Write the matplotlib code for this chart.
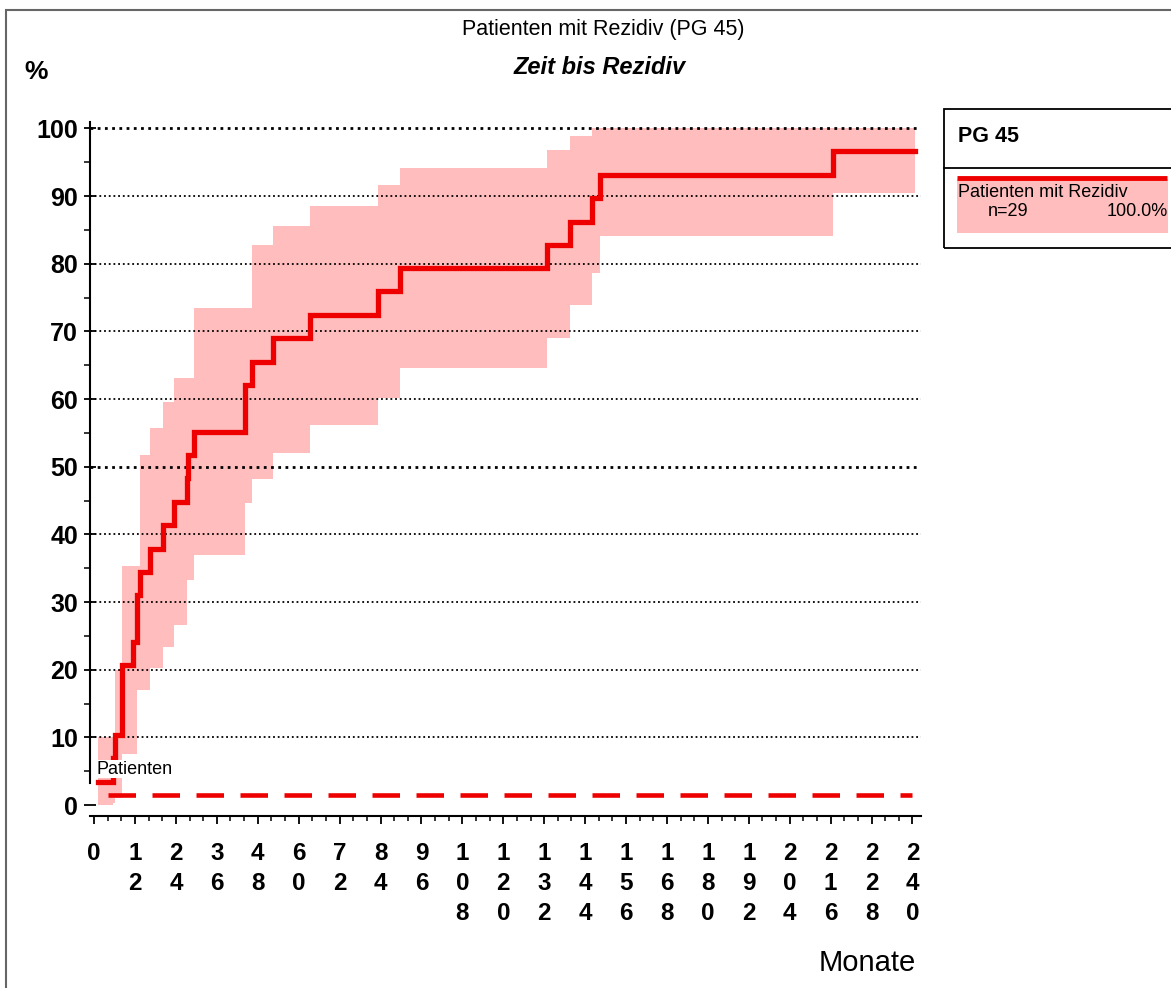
import matplotlib
matplotlib.use("Agg")
import matplotlib.pyplot as plt
from matplotlib.patches import Rectangle
from matplotlib.lines import Line2D
import numpy as np

# Kaplan-Meier-Kurve, Werte
event_months = [1.2, 5.6, 6.1, 8.3, 11.5, 12.5, 13.5, 16.4, 20.3, 23.3, 27.2, 27.6,
                29.2, 44.3, 46.2, 52.6, 63.3, 83.4, 89.7, 132.7, 139.6, 145.9, 148.4, 216.7]
rezidiv_pct = [3.4, 6.9, 10.3, 20.7, 24.1, 31.0, 34.5, 37.9, 41.4, 44.8, 48.3, 51.7,
               55.2, 62.1, 65.5, 69.0, 72.4, 75.9, 79.3, 82.8, 86.2, 89.7, 93.1, 96.6]
ci_lower = [0.0, 0.3, 1.0, 7.5, 7.5, 17.0, 17.0, 20.2, 23.4, 26.6, 33.3, 33.3,
            37.0, 44.6, 48.2, 52.0, 56.2, 60.2, 64.6, 69.1, 73.9, 78.7, 84.1, 90.4]
ci_upper = [10.0, 10.0, 20.0, 35.3, 35.3, 35.3, 51.8, 55.7, 59.6, 63.1, 63.1, 63.1,
            73.4, 73.4, 82.7, 85.6, 88.6, 91.6, 94.1, 96.8, 98.8, 100.0, 100.0, 100.0]
follow_up_end = 240.8
risk_line = [4.1, 240.0]     # gestrichelte Linie "Patienten"
risk_level = 1.5

x_ticks = list(range(0, 241, 12))
y_ticks = list(range(0, 101, 10))

W, H = 1171, 988
RED = "#ee0000"
PINK = "#ffbdbd"
FONT = "Liberation Sans"

plt.rcParams["font.family"] = [FONT, "DejaVu Sans"]

fig = plt.figure(figsize=(W / 100, H / 100), dpi=100)
ax = fig.add_axes([90 / W, 1 - 816 / H, 831 / W, 694.4 / H])

t = event_months + [follow_up_end]
ax.fill_between(t, ci_lower + [ci_lower[-1]], ci_upper + [ci_upper[-1]],
                step="post", color=PINK, lw=0, zorder=1)

for v in y_ticks[1:]:
    lw = 2.0 if v in (50, 100) else 1.3
    ax.axhline(v, color="black", ls=(0, (1, 1.6)), lw=lw, zorder=2)

ax.step(t, rezidiv_pct + [rezidiv_pct[-1]], where="post", color=RED, lw=3.8,
        zorder=4, solid_joinstyle="miter")
ax.plot(risk_line, [risk_level, risk_level], color=RED, lw=3.3,
        ls=(0, (6.0, 3.6)), zorder=4)

ax.text(0.6, 5.3, "Patienten", fontsize=13, ha="left", va="center", zorder=5,
        bbox=dict(facecolor="white", edgecolor="none", pad=0.3))

ax.set_xlim(-1.2, 242.5)
ax.set_ylim(-1.6, 101)
for s in ("top", "right"):
    ax.spines[s].set_visible(False)
ax.spines["left"].set_bounds(3.3, 101)
ax.spines["left"].set_linewidth(1.5)
ax.spines["bottom"].set_linewidth(1.5)

ax.set_xticks(x_ticks)
ax.set_xticklabels(["\n".join(str(m)) for m in x_ticks], fontsize=17.5,
                   fontweight="bold", linespacing=1.38)
ax.set_xticks(np.arange(0, 241, 4), minor=True)
ax.tick_params(axis="x", which="major", direction="out", length=6, width=1.3, pad=13)
ax.tick_params(axis="x", which="minor", direction="out", length=3.5, width=1.1)

ax.set_yticks(y_ticks)
ax.set_yticklabels([str(v) for v in y_ticks], fontsize=18, fontweight="bold")
ax.set_yticks(np.arange(5, 100, 10), minor=True)
ax.tick_params(axis="y", which="major", direction="inout", length=9, width=1.3, pad=4)
ax.tick_params(axis="y", which="minor", direction="out", length=4, width=1.1)

def fx(x):
    return x / W

def fy(y):
    return 1 - y / H

fig.text(fx(603), fy(30), "Patienten mit Rezidiv (PG 45)", fontsize=15.5,
         ha="center", va="center")
fig.text(fx(600), fy(68), "Zeit bis Rezidiv", fontsize=17, style="italic",
         fontweight="bold", ha="center", va="center")
fig.text(fx(36), fy(72), "%", fontsize=19, fontweight="bold", ha="center", va="center")
fig.text(fx(916), fy(963), "Monate", fontsize=21, ha="right", va="center")

# Rahmen um die ganze Grafik
fig.add_artist(Rectangle((fx(6), -0.1), 1.2, fy(10) + 0.1, transform=fig.transFigure,
                         fill=False, edgecolor="#666666", lw=1.5, clip_on=False))

# Legende
fig.add_artist(Rectangle((fx(944), fy(248)), 0.3, (248 - 109) / H, transform=fig.transFigure,
                         fill=False, edgecolor="black", lw=1.3, clip_on=False))
fig.add_artist(Line2D([fx(944), 1.0], [fy(168), fy(168)], transform=fig.transFigure,
                      color="black", lw=1.3))
fig.text(fx(958), fy(136), "PG 45", fontsize=15.5, fontweight="bold", ha="left", va="center")
fig.add_artist(Rectangle((fx(957), fy(233)), (1168 - 957) / W, (233 - 179) / H,
                         transform=fig.transFigure, facecolor=PINK, edgecolor="none"))
fig.add_artist(Line2D([fx(957), fx(1167)], [fy(178.5), fy(178.5)], transform=fig.transFigure,
                      color=RED, lw=3.5, solid_capstyle="butt"))
fig.text(fx(958), fy(192), "Patienten mit Rezidiv", fontsize=13, ha="left", va="center")
fig.text(fx(1008), fy(212), "n=29", fontsize=13, ha="center", va="center")
fig.text(fx(1168), fy(212), "100.0%", fontsize=13, ha="right", va="center")

fig.savefig("out.png", dpi=100)
